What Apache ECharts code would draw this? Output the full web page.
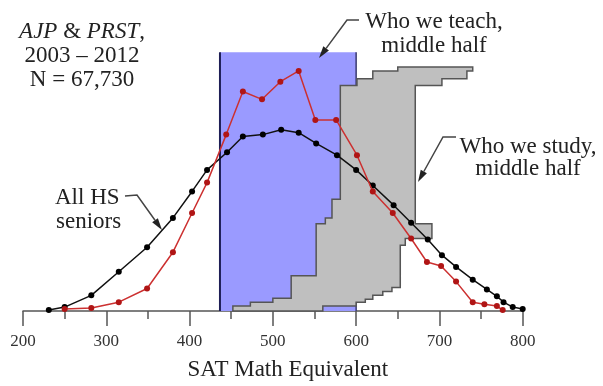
<!DOCTYPE html>
<html>
<head>
<meta charset="utf-8">
<script src="https://cdn.jsdelivr.net/npm/echarts@6/dist/echarts.min.js"></script>
<style>
html,body{margin:0;padding:0;background:#fff;}
#chart{width:603px;height:386px;}
</style>
</head>
<body>
<div id="chart"></div>
<script>
// All HS seniors (black)
const seniorsX = [231, 250, 282, 315, 349, 380, 403, 421, 445, 464, 488, 510, 531, 552, 577, 600, 620, 645, 666, 686, 703, 720, 740, 757, 769, 777, 788, 800];
const seniorsY = [1, 4, 16, 40, 65, 95, 122, 144, 162, 178, 180, 185, 182, 171, 159, 144, 128, 108, 90, 73, 57, 45, 32, 22, 15, 9, 4, 2];
// Students we study (red)
const studyX = [250, 282, 315, 349, 380, 403, 421, 444, 464, 487, 509, 531, 551, 576, 601, 620, 644, 666, 685, 702, 720, 740, 754, 769, 776];
const studyY = [2, 3, 9, 23, 60, 100, 131, 180, 224, 216, 234, 245, 195, 195, 159, 122, 100, 74, 50, 46, 30, 9, 7, 5, 1];
// Who we teach, middle half (blue band)
const teachLow = 436.5;
const teachHigh = 600;
const teachTop = 264;
// Who we study, middle half (gray stepped bars: bottom, top, left, right)
const grayBottom = [0, 5, 9, 12, 13, 16, 20, 24, 36, 67, 74, 89, 95, 114, 230, 237, 245];
const grayTop    = [5, 9, 12, 13, 16, 20, 24, 36, 67, 74, 89, 95, 114, 230, 237, 245, 249];
const grayLeft   = [452, 473, 500, 500, 522, 522, 522, 522, 552, 552, 552, 563, 571, 581, 601, 620, 650];
const grayRight  = [560, 600, 611, 620, 620, 632, 643, 653, 653, 659, 691, 671, 671, 671, 703, 733, 740];
// Axis ticks
const xMin = 200, xMax = 800, xStep = 100;

const chart = echarts.init(document.getElementById('chart'), null, {renderer: 'canvas'});
const SERIF = '"Liberation Serif", "DejaVu Serif", serif';
const TXT = '#222';

function arrow(sx, sy, hx, hy, tx, ty) {
  const dx = tx - sx, dy = ty - sy;
  const len = Math.sqrt(dx*dx + dy*dy);
  const ux = dx/len, uy = dy/len;
  const hl = 12, hw = 3.5;
  const bx = tx - ux*hl, by = ty - uy*hl;
  return [
    {type:'polyline', shape:{points:[[hx,hy],[sx,sy],[bx,by]]}, style:{stroke:'#444', lineWidth:1.5, fill:null}, z:100},
    {type:'polygon', shape:{points:[[tx,ty],[bx - uy*hw, by + ux*hw],[bx + uy*hw, by - ux*hw]]}, style:{fill:'#222'}, z:100}
  ];
}
function txt(x, y, s, align, rich) {
  const o = {type:'text', x:x, y:y, z:100, style:{text:s, font:'23px ' + SERIF, fill:TXT, textAlign:align||'center', textVerticalAlign:'middle'}};
  if (rich) { o.style.rich = rich; }
  return o;
}

const graphics = [
  txt(82, 32, '{i|AJP} & {i|PRST},', 'center', {i:{fontStyle:'italic', fontSize:23, fontFamily:SERIF, fill:TXT}}),
  txt(82, 56, '2003 \u2013 2012'),
  txt(82, 80, 'N = 67,730'),
  txt(434, 22, 'Who we teach,'),
  txt(434, 46, 'middle half'),
  txt(528, 147, 'Who we study,'),
  txt(528, 169, 'middle half'),
  txt(55, 198, 'All HS', 'left'),
  txt(56, 222, 'seniors', 'left')
].concat(
  arrow(347, 20, 359, 20, 319, 58),
  arrow(443, 137, 456, 137, 418, 182),
  arrow(137, 195, 125, 196, 162, 230)
);

const option = {
  animation: false,
  backgroundColor: '#fff',
  grid: {left: 23, right: 80.3, top: 17, bottom: 69, containLabel: false},
  xAxis: {
    type: 'value', min: xMin, max: xMax, interval: xStep,
    name: 'SAT Math Equivalent', nameLocation: 'middle', nameGap: 47,
    nameTextStyle: {fontFamily: SERIF, fontSize: 23, color: TXT, padding: [0, 0, 0, 30]},
    axisLine: {show: true, lineStyle: {color: '#555', width: 1.5}},
    axisTick: {show: true, length: 15, lineStyle: {color: '#555', width: 1.5}},
    minorTick: {show: true, splitNumber: 2, length: 8, lineStyle: {color: '#555', width: 1.5}},
    axisLabel: {fontFamily: SERIF, fontSize: 17, color: '#333', margin: 22},
    splitLine: {show: false}, minorSplitLine: {show: false}
  },
  yAxis: {type: 'value', min: 0, max: 300, show: false},
  graphic: graphics,
  series: [
    {
      type: 'custom', z: 1, silent: true,
      data: [[teachLow, teachHigh, teachTop]],
      renderItem: function (params, api) {
        const lo = api.value(0), hi = api.value(1), top = api.value(2);
        const p0 = api.coord([lo, 0]), p1 = api.coord([hi, top]);
        return {type: 'group', children: [
          {type: 'rect', shape: {x: p0[0], y: p1[1], width: p1[0]-p0[0], height: p0[1]-p1[1]}, style: {fill: '#9a9aff'}},
          {type: 'line', shape: {x1: p0[0], y1: p0[1], x2: p0[0], y2: p1[1]}, style: {stroke: '#1e1e55', lineWidth: 2}},
          {type: 'line', shape: {x1: p1[0], y1: p0[1], x2: p1[0], y2: p1[1]}, style: {stroke: '#3a3a70', lineWidth: 1.5}}
        ]};
      }
    },
    {
      type: 'custom', z: 2, silent: true,
      data: [[0, 0]],
      renderItem: function (params, api) {
        const pts = [];
        for (let i = 0; i < grayBottom.length; i++) {
          pts.push(api.coord([grayRight[i], grayBottom[i]]));
          pts.push(api.coord([grayRight[i], grayTop[i]]));
        }
        for (let i = grayBottom.length - 1; i >= 0; i--) {
          pts.push(api.coord([grayLeft[i], grayTop[i]]));
          pts.push(api.coord([grayLeft[i], grayBottom[i]]));
        }
        return {type: 'polygon', shape: {points: pts}, style: {fill: '#bfbfbf', stroke: '#555', lineWidth: 1.5}};
      }
    },
    {
      name: 'All HS seniors', type: 'line', z: 3,
      data: seniorsX.map((x, i) => [x, seniorsY[i]]),
      symbol: 'circle', symbolSize: 6, showSymbol: true,
      lineStyle: {color: '#111', width: 1.5},
      itemStyle: {color: '#000'}
    },
    {
      name: 'Who we study', type: 'line', z: 4,
      data: studyX.map((x, i) => [x, studyY[i]]),
      symbol: 'circle', symbolSize: 6, showSymbol: true,
      lineStyle: {color: '#cc3030', width: 1.5},
      itemStyle: {color: '#b01515'}
    }
  ]
};
chart.setOption(option);
</script>
</body>
</html>
